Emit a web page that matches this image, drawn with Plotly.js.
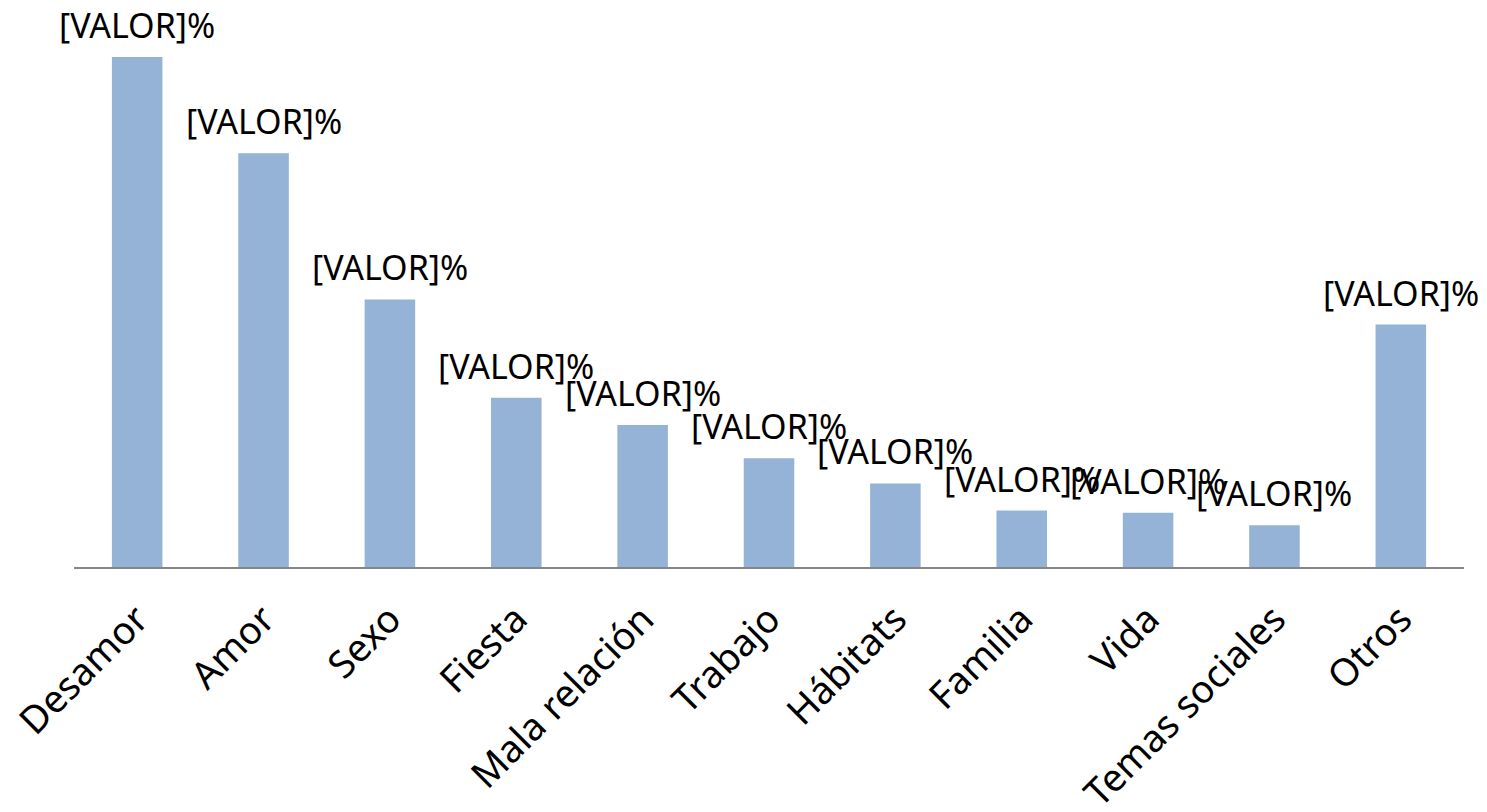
<!DOCTYPE html>
<html>
<head>
<meta charset="utf-8">
<script src="https://cdn.plot.ly/plotly-3.0.1.min.js"></script>
<style>html,body{margin:0;padding:0;background:#fff;}#chart{width:1487px;height:812px;}</style>
</head>
<body>
<div id="chart"></div>
<script>
const categories = ["Desamor", "Amor", "Sexo", "Fiesta", "Mala relación", "Trabajo", "Hábitats", "Familia", "Vida", "Temas sociales", "Otros"];
const values = [24.4, 19.8, 12.8, 8.1, 6.8, 5.2, 4.0, 2.7, 2.6, 2.0, 11.6];
const labels = ["[VALOR]%", "[VALOR]%", "[VALOR]%", "[VALOR]%", "[VALOR]%", "[VALOR]%", "[VALOR]%", "[VALOR]%", "[VALOR]%", "[VALOR]%", "[VALOR]%"];

const trace = {
  type: "bar",
  x: categories,
  y: values,
  marker: {color: "#95B3D7"},
  hoverinfo: "none"
};

const annotations = categories.map((c, i) => ({
  x: c, y: values[i], xref: "x", yref: "y",
  text: labels[i], showarrow: false,
  xanchor: "center", yanchor: "bottom", yshift: 7,
  font: {family: "Noto Sans", size: 34, color: "#000"}
}));

const layout = {
  width: 1487, height: 812,
  margin: {l: 74, r: 23, t: 10, b: 245},
  paper_bgcolor: "#fff", plot_bgcolor: "#fff",
  bargap: 0.6,
  showlegend: false,
  xaxis: {
    type: "category",
    range: [-0.5, categories.length - 0.5],
    tickangle: -45,
    tickfont: {family: "Noto Sans", size: 38, color: "#000"},
    ticklabelstandoff: 13,
    showline: true, linecolor: "#868686", linewidth: 1.5,
    ticks: "", showgrid: false, zeroline: false
  },
  yaxis: {
    range: [0, 26.65],
    visible: false, showgrid: false, zeroline: false
  },
  annotations: annotations
};

Plotly.newPlot("chart", [trace], layout, {displayModeBar: false, staticPlot: true});
</script>
</body>
</html>
